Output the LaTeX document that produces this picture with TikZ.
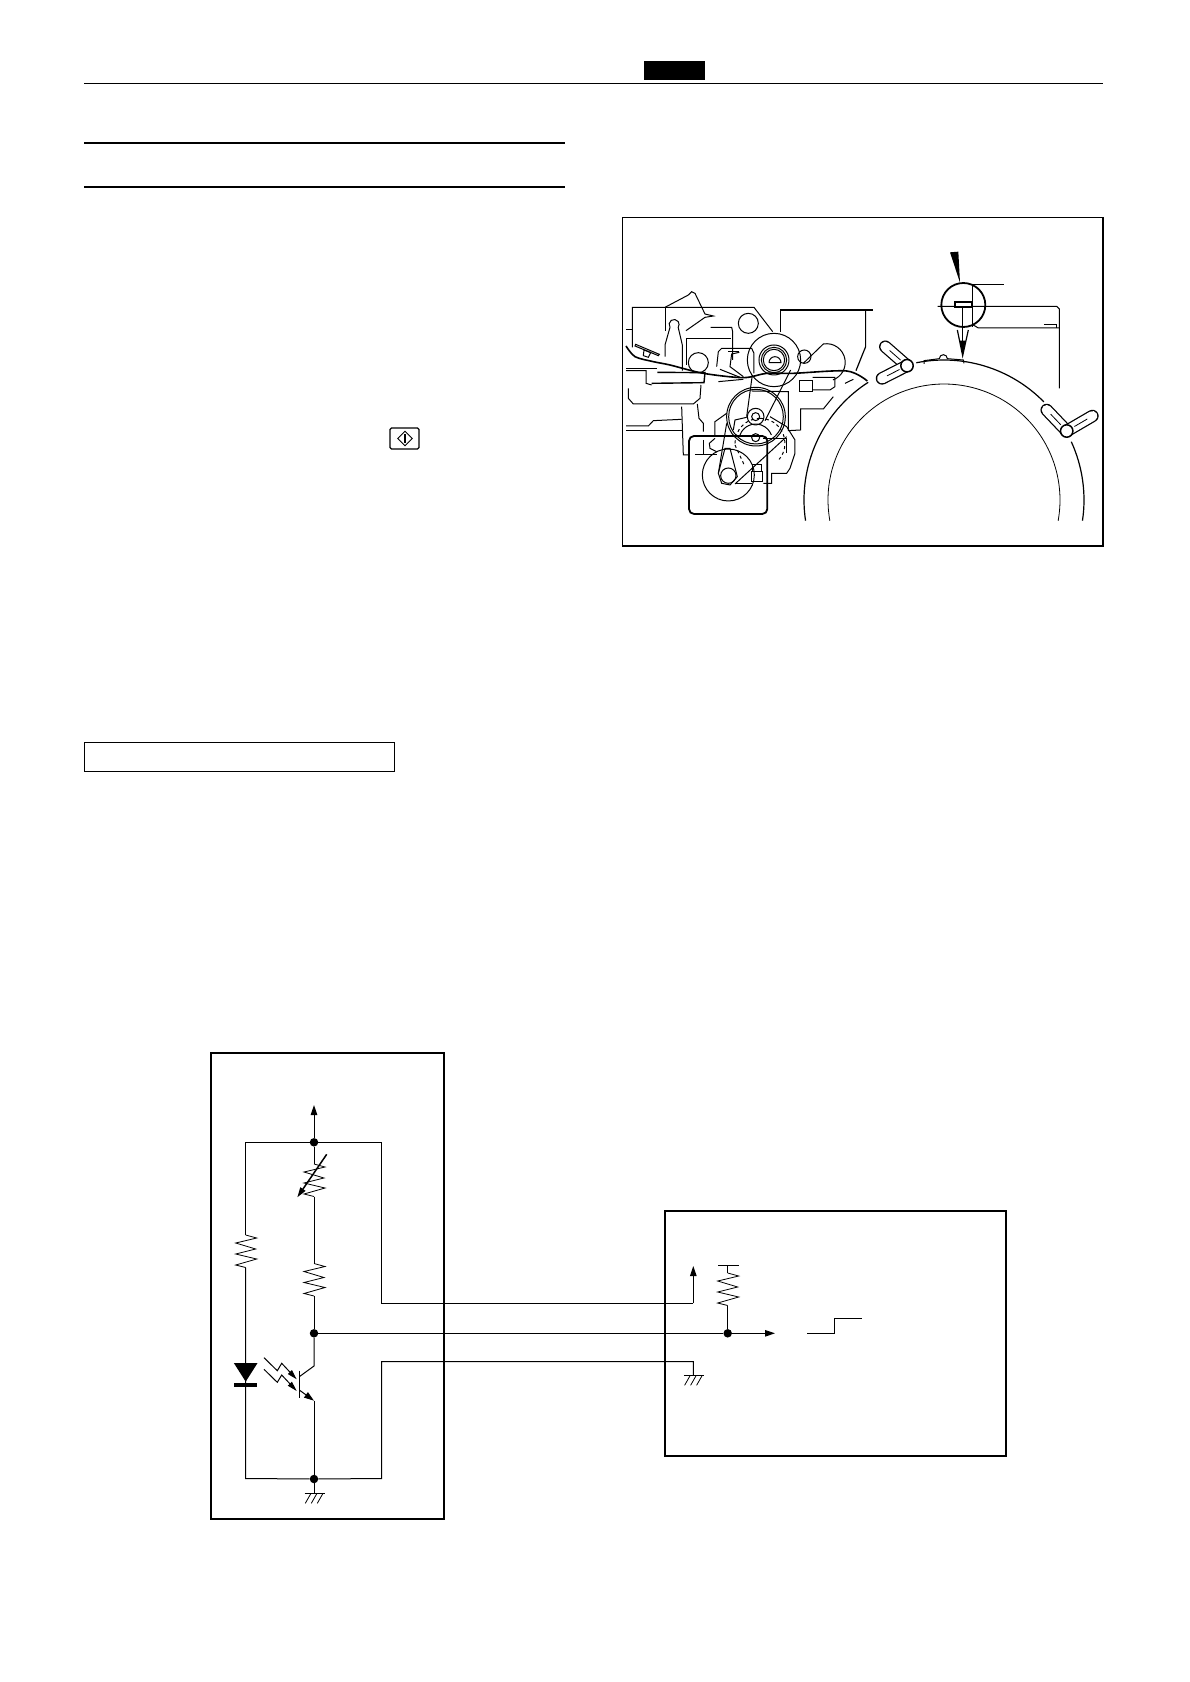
\documentclass[tikz,border=0pt]{standalone}
\usetikzlibrary{arrows.meta,shapes.geometric}
\tikzset{
  wire/.style={line width=1pt},
  part/.style={line width=0.8pt},
  mech/.style={line width=1pt},
  panel/.style={draw,line width=2pt},
  dotnode/.style={circle,fill=black,inner sep=0pt,minimum size=8.5pt},
  tip/.style={-{Triangle[length=10pt,width=6.5pt]}},
  resistor/.pic={\draw[part] (0,0)--(11,3)--(-10,8)--(10,14)--(-10,19)--(11,24)--(-10,30)--(0,32.5);},
  earth/.pic={\draw[wire] (-9.5,0)--(10.5,0);
    \foreach \xa in {-3,3,9} \draw[part] (\xa,0)--(\xa-5.7,10);},
  armpart/.pic={\draw[line cap=round,line width=12.5pt] (0,0)--(\armx,\army);
    \draw[white,line cap=round,line width=10pt] (0,0)--(\armx,\army);
    \draw[part] (0.3*\armx,0.3*\army)--(0.8*\armx,0.8*\army);},
}
\newcommand{\armx}{0}
\newcommand{\army}{0}
\newcommand{\clampat}[7]{%
  \renewcommand{\armx}{#3}\renewcommand{\army}{#4}
  \pic at (#1,#2) {armpart};
  \renewcommand{\armx}{#5}\renewcommand{\army}{#6}
  \pic at (#1,#2) {armpart};
  \draw[line width=1.5pt,fill=white] (#1,#2) circle (#7);}
\begin{document}
\begin{tikzpicture}[x=1pt,y=-1pt]
\useasboundingbox (0,0) rectangle (1190,1682);
\draw[line width=1pt] (84,83)--(1103,83);
\fill (644,61) rectangle (705,80);
\draw[line width=2pt] (84,143)--(565,143);
\draw[line width=2pt] (84,186.5)--(565,186.5);
\draw[line width=1.2pt,rounded corners=1.5pt] (390,428) rectangle (419,449);
\node[diamond,draw,line width=0.9pt,inner sep=0pt,minimum size=15pt] (startkey) at (405,438.5) {};
\draw[line width=1.5pt] (405,434)--(405,443);
\draw[line width=1pt] (84,742) rectangle (394,771);
\draw[line width=1.2pt] (622.7,217.3) rectangle (1103,546);

\begin{scope}[shift={(620,210)},x=0.3333pt,y=-0.3333pt]
\draw[mech] (18,358)--(37,358);
\draw[mech] (37,412)--(37,292)--(402,292)--(458,365);
\draw[wire] (135,292)--(205,255)--(215,245)--(225,250)--(255,312)--(280,318)--(255,322)--(198,362);
\draw[mech] (135,292)--(135,362);
\draw[mech] (135,440)--(135,405)--(150,352) arc (145:395:15) --(187,405)--(187,482);
\draw[mech] (385,340) circle (30);
\draw[mech] (272,352)--(335,352)--(338,365)--(338,450);
\draw[mech] (198,465)--(198,385)--(332,385);
\draw[mech] (235,458) circle (30);
\draw[mech] (290,470)--(295,425)--(305,415)--(395,415)--(402,430)--(402,490);
\draw[wire] (325,425)--(358,425);
\draw[mech] (358,427)--(335,432)--(330,470)--(370,500);
\draw[mech] (300,478)--(360,502);
\draw[mech] (47,403)--(118,433)--(115,437)--(45,408)--cycle;
\draw[mech] (72,420)--(92,428)--(85,442)--(70,437)--cycle;
\draw[line width=1.6pt] plot[smooth] coordinates {(18,408) (45,440) (100,455) (150,465) (250,490) (370,503) (440,490) (520,490) (680,483) (742,513)};
\draw[mech] (18,475)--(112,475);
\draw[wire] (18,482)--(78,482)--(78,520)--(95,525);
\draw[line width=1.4pt] (95,520)--(252,518)--(255,488)--(112,487);
\draw[mech] (295,515)--(370,508);
\draw[mech] (25,535)--(25,565)--(40,582)--(220,582)--(240,565)--(243,525);
\draw[mech] (185,590)--(190,735)--(207,735);
\draw[mech] (232,582)--(237,625)--(250,640)--(250,665);
\draw[mech] (18,648)--(85,648)--(100,632)--(185,628);
\draw[mech] (18,662)--(190,662);
\draw[mech] (462,450) circle (80);
\draw[mech] (462,450) circle (45);
\draw[mech] (462,450) circle (38);
\draw[mech] (462,450) circle (32);
\draw[mech] (447,458)--(483,458) arc (0:-180:18);
\draw[mech] (553,440) circle (20);
\draw[line width=1.2pt] (482,365)--(482,300)--(758,300);
\draw[line width=1.2pt] (737,300)--(737,410)--(708,482);
\draw[mech] (550,460)--(610,402) arc (-100:70:56);
\draw[wire] (538,512) rectangle (578,545);
\draw[mech] (578,502)--(645,502)--(645,530)--(630,540)--(578,540);
\draw[mech] (675,520)--(700,508);
\draw[mech] (640,560)--(610,597)--(542,597)--(542,660)--(505,662)--(505,545)--(395,543);
\draw[mech] (408,620) circle (88);
\draw[mech] (408,620) circle (82);
\draw[mech] (407,620) circle (25);
\draw[mech] (407,620) circle (12);
\draw[mech] (397,495)--(380,620);
\draw[mech] (512,480)--(435,632);
\draw[mech] (320,640)--(295,790);
\draw[mech,dashed] (420,625) arc (-90:40:75);
\draw[mech,dashed] (345,700) arc (180:270:75);
\draw[mech,dashed] (345,705)--(375,770);
\draw[mech] (340,660)--(345,630)--(380,622);
\draw[mech] (407,683) circle (12);
\draw[mech] (360,675) arc (200:340:50);
\draw[mech] (450,620)--(500,650)--(525,690)--(525,730)--(510,775)--(500,790)--(455,790)--(455,820)--(430,820);
\draw[mech] (285,680)--(285,635)--(320,610);
\draw[wire] (285,685)--(268,700)--(270,715)--(290,725);
\draw[line width=1.8pt,rounded corners=5pt] (207,678) rectangle (442,912);
\draw[mech] (325,795) circle (78);
\draw[mech] (325,797) circle (23);
\draw[mech] (295,790)--(315,715)--(330,715)--(352,800)--(330,825)--(305,820)--cycle;
\draw[mech] (345,822)--(500,680);
\draw[mech] (345,820)--(395,820);
\draw[wire] (397,765) rectangle (425,785);
\draw[wire] (395,785) rectangle (428,815);
\draw[mech] (225,735)--(290,735);
\draw[mech] (250,690)--(250,735);
\draw[mech] (430,685)--(500,685)--(500,730);
\end{scope}

\draw[line width=1.2pt] (944,500) +(171.5:140) arc (171.5:237.2:140);
\draw[line width=1.2pt] (944,500) +(258.6:140) arc (258.6:315.5:140);
\draw[line width=1.2pt] (944,500) +(335.4:140) arc (335.4:368.5:140);
\draw[part] (944,500) +(169.7:116) arc (169.7:370.3:116);
\clampat{907}{365.7}{-21.7}{-19}{-25}{12.7}{6.2}
\clampat{1066.7}{431}{-20}{-21}{25.7}{-15}{6.2}

\begin{scope}[shift={(900,210)},x=0.3333pt,y=-0.3333pt]
\draw[mech] (72,462)--(72,452)--(118,446) arc (180:360:12) --(190,450)--(192,460);
\draw[line width=1.8pt] (190,285) circle (66);
\fill (150,127)--(175,125)--(180,218)--cycle;
\draw[wire] (113,289)--(470,289)--(478,297)--(478,535);
\draw[part] (217,222)--(217,350);
\draw[part] (220,224)--(312,224);
\draw[wire] (220,345)--(235,354)--(478,354);
\draw[wire] (432,343)--(470,343)--(470,354);
\draw[line width=1.8pt,fill=white] (164,275) rectangle (215,291);
\draw[wire] (188,295)--(188,437);
\draw[line width=1.2pt] (172,360)--(188,437)--(205,360);
\fill (179,392)--(188,437)--(197,392)--cycle;
\end{scope}

\draw[panel] (211,1053) rectangle (444,1519);
\draw[panel] (665,1211) rectangle (1006,1456);

\node[dotnode] (vccnode) at (314,1142.3) {};
\node[dotnode] (midnode) at (314,1333.3) {};
\node[dotnode] (gndnode) at (314,1479) {};
\node[dotnode] (pullnode) at (727.7,1333.3) {};
\coordinate (vcctip) at (314,1105);
\coordinate (lefttop) at (245.7,1142.3);
\coordinate (leftbot) at (245.7,1478.5);
\coordinate (righttop) at (381.7,1142.3);
\coordinate (rightbot) at (381.7,1478.5);
\coordinate (powbend) at (381.7,1303.3);
\coordinate (powcorner) at (693.3,1303.3);
\coordinate (powtip) at (693.3,1266);
\coordinate (earthbend) at (381.7,1361.5);
\coordinate (earthcorner) at (693.3,1361.5);
\coordinate (earthtop) at (693.3,1375.3);
\coordinate (sigtip) at (775,1333.3);

\draw[wire,tip] (vccnode)--(vcctip);
\draw[wire] (vccnode)--(lefttop)--(245.7,1235);
\draw[wire] (245.7,1267.5)--(leftbot)--(gndnode);
\draw[wire] (vccnode)--(righttop)--(powbend)--(powcorner);
\draw[wire,tip] (powcorner)--(powtip);
\draw[wire] (gndnode)--(rightbot)--(earthbend)--(earthcorner)--(earthtop);
\draw[wire] (vccnode)--(314,1164);
\pic at (314,1164) {resistor};
\draw[wire] (314,1196.5)--(314,1263.5);
\pic at (314,1263.5) {resistor};
\draw[wire] (314,1296)--(midnode);
\pic at (245.7,1235) {resistor};
\draw[line width=1.5pt,-{Triangle[length=10pt,width=6pt]}] (326.7,1154.3)--(297.3,1197.3);

\node[isosceles triangle,isosceles triangle apex angle=65,shape border rotate=270,fill=black,inner sep=0pt,minimum height=18.5pt,minimum width=23pt,anchor=apex] (ledbody) at (245.7,1382) {};
\draw[line width=3.5pt] (234,1385)--(256.5,1385);

\draw[wire] (midnode)--(314,1366)--(299.3,1376.7);
\draw[wire] (299.3,1370.7)--(299.3,1397.7);
\draw[wire,tip] (299.3,1390)--(314,1400.7);
\draw[wire] (314,1400.7)--(gndnode);
\draw[wire,-{Triangle[length=10pt,width=5.5pt]}] (264,1357.7)--(277.3,1370.7)--(281.7,1363.3)--(296.7,1379.3);
\draw[wire,-{Triangle[length=10pt,width=5.5pt]}] (264,1369.3)--(277.3,1382.3)--(281.7,1375)--(296.7,1391);
\draw[wire] (gndnode)--(314,1493.3);
\pic at (314,1493.3) {earth};

\draw[wire,tip] (midnode)--(pullnode)--(sigtip);
\pic at (693.3,1375.3) {earth};
\draw[wire] (718.3,1265)--(739,1265);
\draw[wire] (727.7,1265)--(727.7,1273);
\pic at (727.7,1273) {resistor};
\draw[wire] (727.7,1305.5)--(pullnode);
\draw[wire] (807,1333.3)--(834.3,1333.3)--(834.3,1318.3)--(861.7,1318.3);
\end{tikzpicture}
\end{document}
